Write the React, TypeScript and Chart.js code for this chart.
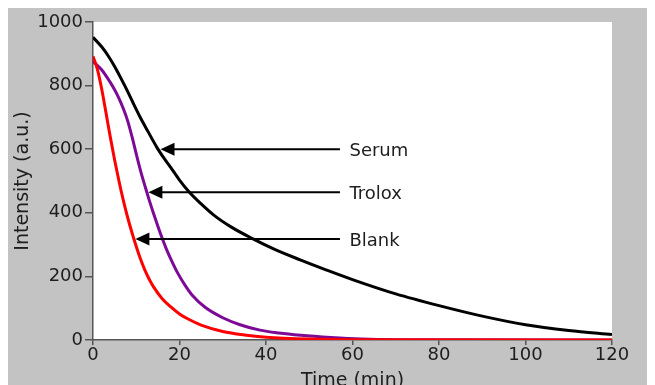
import React, { useEffect, useRef } from "react";
import { Chart, registerables } from "chart.js";

Chart.register(...registerables);

// Serum (black)
const serumTimes = [0, 2, 3.5, 5, 6.5, 8, 9.6, 11, 12.7, 14.8, 16, 18, 20, 22.4, 25, 28, 32, 37, 42, 47.9, 54, 60, 70, 80, 90, 100, 110, 120];
const serumValues = [952, 922, 894, 860, 822, 782, 736, 698, 656, 605, 580, 542, 503, 463, 428, 392, 355, 318, 285, 252, 220, 190, 145, 108, 75, 48, 30, 17];

// Trolox (purple)
const troloxTimes = [0, 2, 4, 5, 6, 7, 8, 9, 10, 11, 12, 13, 14, 15, 16, 17, 18, 19.4, 21.3, 23, 26, 30, 34, 38.6, 43, 48, 55, 62, 70, 120];
const troloxValues = [876, 850, 810, 787, 760, 728, 690, 640, 585, 532, 485, 440, 398, 358, 320, 285, 254, 215, 172, 140, 102, 70, 48, 31, 22, 15, 8, 3, 1, 0];

// Blank (red)
const blankTimes = [0, 1, 2, 3, 4, 5, 6, 7, 8, 9, 10, 11, 12, 13, 14, 16, 18, 20, 22, 25, 30, 35, 40, 50, 60, 120];
const blankValues = [892, 852, 790, 715, 638, 566, 500, 440, 386, 338, 294, 254, 220, 191, 167, 130, 104, 82, 66, 47, 27, 16, 9, 3, 1, 0];

// Arrow annotations
const arrowLabels = ["Serum", "Trolox", "Blank"];
const arrowTipTimes = [15.6, 12.8, 9.8];
const arrowValues = [600, 465, 318];
const arrowTailTime = 57.1;
const labelTime = 59.3;

const xTicks = [0, 20, 40, 60, 80, 100, 120];
const yTicks = [0, 200, 400, 600, 800, 1000];

const FONT = "'DejaVu Sans', Verdana, sans-serif";
const TEXT = "#1e1e1e";
const AXIS = "#555555";

function toXY(t: number[], v: number[]) {
  return t.map((x, i) => ({ x, y: v[i] }));
}

const bgPlugin = {
  id: "bg",
  beforeDraw(chart: any) {
    const { ctx, chartArea } = chart;
    ctx.save();
    ctx.fillStyle = "#c3c3c3";
    ctx.fillRect(0, 0, chart.width, chart.height);
    ctx.fillStyle = "#ffffff";
    ctx.fillRect(chartArea.left, chartArea.top, chartArea.right - chartArea.left, chartArea.bottom - chartArea.top);
    ctx.restore();
  },
};

const arrowPlugin = {
  id: "arrows",
  afterDatasetsDraw(chart: any) {
    const { ctx, scales } = chart;
    const xs = scales.x;
    const ys = scales.y;
    ctx.save();
    arrowLabels.forEach((label, i) => {
      const y = ys.getPixelForValue(arrowValues[i]);
      const tip = xs.getPixelForValue(arrowTipTimes[i]);
      const tail = xs.getPixelForValue(arrowTailTime);
      ctx.strokeStyle = "#000";
      ctx.lineWidth = 2;
      ctx.beginPath();
      ctx.moveTo(tip + 10, y);
      ctx.lineTo(tail, y);
      ctx.stroke();
      ctx.fillStyle = "#000";
      ctx.beginPath();
      ctx.moveTo(tip, y);
      ctx.lineTo(tip + 14, y - 6.5);
      ctx.lineTo(tip + 14, y + 6.5);
      ctx.closePath();
      ctx.fill();
      ctx.font = `18px ${FONT}`;
      ctx.fillStyle = TEXT;
      ctx.textAlign = "left";
      ctx.textBaseline = "middle";
      ctx.fillText(label, xs.getPixelForValue(labelTime), y + 2);
    });
    ctx.restore();
  },
};

export default function App() {
  const ref = useRef<HTMLCanvasElement | null>(null);
  useEffect(() => {
    document.body.style.overflow = "hidden";
    const lineDs = (label: string, data: any, color: string) => ({
      label,
      data,
      borderColor: color,
      backgroundColor: color,
      borderWidth: 3,
      pointRadius: 0,
      cubicInterpolationMode: "monotone" as const,
      fill: false,
    });
    const chart = new Chart(ref.current as HTMLCanvasElement, {
      type: "line",
      data: {
        datasets: [
          lineDs("Blank", toXY(blankTimes, blankValues), "#ff0000"),
          lineDs("Trolox", toXY(troloxTimes, troloxValues), "#7d0a96"),
          lineDs("Serum", toXY(serumTimes, serumValues), "#000000"),
        ],
      },
      options: {
        animation: false,
        responsive: false,
        layout: { padding: { top: 14, right: 43, left: 0, bottom: 0 } },
        plugins: { legend: { display: false }, tooltip: { enabled: false } },
        scales: {
          x: {
            type: "linear",
            min: 0,
            max: 120,
            afterFit(s: any) { s.height = 45; },
            afterBuildTicks(s: any) { s.ticks = xTicks.map((v) => ({ value: v })); },
            ticks: { color: TEXT, font: { family: FONT, size: 18 }, padding: 0, maxRotation: 0, callback: (v: any) => String(v) },
            grid: { display: true, drawOnChartArea: false, drawTicks: true, tickLength: 5, color: AXIS, lineWidth: 1.5 },
            border: { display: true, color: AXIS, width: 1.5 },
            title: { display: true, text: "Time (min)", color: TEXT, font: { family: FONT, size: 19 }, padding: { top: 0, bottom: -7 } },
          },
          y: {
            type: "linear",
            min: 0,
            max: 1000,
            afterFit(s: any) { s.width = 85; },
            afterBuildTicks(s: any) { s.ticks = yTicks.map((v) => ({ value: v })); },
            ticks: { color: TEXT, font: { family: FONT, size: 18 }, padding: 2, callback: (v: any) => String(v) },
            grid: { display: true, drawOnChartArea: false, drawTicks: true, tickLength: 8, color: AXIS, lineWidth: 1.5 },
            border: { display: true, color: AXIS, width: 1.5 },
            title: { display: true, text: "Intensity (a.u.)", color: TEXT, font: { family: FONT, size: 19 }, padding: { top: 4, bottom: 0 } },
          },
        },
      },
      plugins: [bgPlugin, arrowPlugin],
    });
    return () => chart.destroy();
  }, []);
  return <canvas ref={ref} width={647} height={377} style={{ display: "block" }} />;
}
